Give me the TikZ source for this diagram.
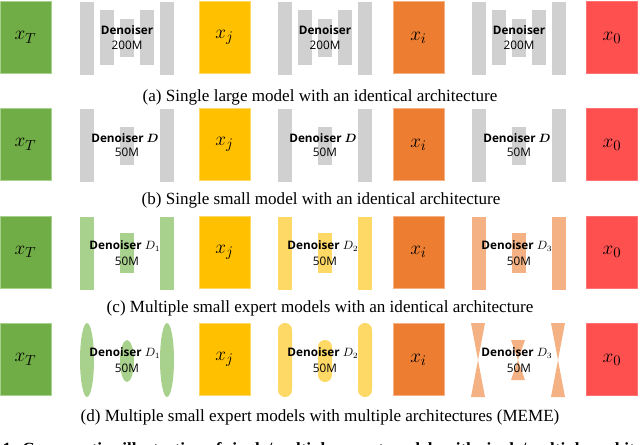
\documentclass[tikz,border=0pt]{standalone}
\usepackage{fontspec}
\usepackage{bm}
\setmainfont{Liberation Serif}
\newfontfamily\dfont{Open Sans}
\definecolor{cgreen}{HTML}{70AD47}
\definecolor{lgreen}{HTML}{A9D18E}
\definecolor{cyellow}{HTML}{FFC000}
\definecolor{lyellow}{HTML}{FFD966}
\definecolor{corange}{HTML}{ED7D31}
\definecolor{lorange}{HTML}{F4B183}
\definecolor{cred}{HTML}{FF5050}
\definecolor{cgray}{HTML}{D0D0D0}
\tikzset{
  xbox/.style={rectangle, inner sep=0pt, minimum width=51*0.75pt, minimum height=72*0.75pt, font=\fontsize{15.5}{16}\selectfont},
  dtext/.style={inner sep=0pt, font=\dfont\fontsize{8.8}{10}\selectfont},
  captext/.style={inner sep=0pt, font=\fontsize{12.8}{14}\selectfont},
}
% bars: #1 center x, #2 top, #3 bottom, #4 colour
\newcommand{\barR}[4]{\fill[#4] (#1-7,#2) rectangle (#1+7,#3);}
\newcommand{\barE}[4]{\fill[#4] (#1,{(#2+#3)/2}) ellipse [x radius=7, y radius={(#3-#2)/2}];}
\newcommand{\barS}[4]{\fill[#4, rounded corners=5.2pt] (#1-7,#2) rectangle (#1+7,#3);}
\newcommand{\barH}[4]{\fill[#4] (#1-7,#2) -- (#1+7,#2) -- (#1,{(#2+#3)/2}) -- (#1+7,#3) -- (#1-7,#3) -- (#1,{(#2+#3)/2}) -- cycle;}
\begin{document}
\begin{tikzpicture}[x=0.75pt,y=-0.75pt]
\useasboundingbox (0,0) rectangle (640,444);
\clip (0,0) rectangle (640,444);
% ---------- row (a)
\foreach \c in {127,325,519}{
  \barR{\c-40}{2}{75}{cgray}
  \barR{\c+40}{2}{75}{cgray}
  \barR{\c-20}{10}{65}{cgray}
  \barR{\c+20}{10}{65}{cgray}
  \barR{\c}{19}{57}{cgray}
}
\node[xbox, fill=cgreen, draw=lgreen] (aT) at (25.5,37.5) {$x_T$};
\node[xbox, fill=cyellow, draw=lyellow] (aj) at (224.5,37.5) {$x_j$};
\node[xbox, fill=corange, draw=lorange] (ai) at (418.5,37.5) {$x_i$};
\node[xbox, fill=cred, draw=cred!80] (a0) at (612,37.5) {$x_0$};
\node[dtext] (ad1) at (127,30) {\bfseries Denoiser};
\node[dtext] (ad1m) at (127,45) {200M};
\node[dtext] (ad2) at (325,30) {\bfseries Denoiser};
\node[dtext] (ad2m) at (325,45) {200M};
\node[dtext] (ad3) at (519,30) {\bfseries Denoiser};
\node[dtext] (ad3m) at (519,45) {200M};
\node[captext] (capa) at (320,97) {(a) Single large model with an identical architecture};
% ---------- row (b)
\foreach \c in {127,325,519}{
  \barR{\c-40}{109}{182}{cgray}
  \barR{\c+40}{109}{182}{cgray}
  \barR{\c}{127}{165}{cgray}
}
\node[xbox, fill=cgreen, draw=lgreen] (bT) at (25.5,144.5) {$x_T$};
\node[xbox, fill=cyellow, draw=lyellow] (bj) at (224.5,144.5) {$x_j$};
\node[xbox, fill=corange, draw=lorange] (bi) at (418.5,144.5) {$x_i$};
\node[xbox, fill=cred, draw=cred!80] (b0) at (612,144.5) {$x_0$};
\node[dtext] (bd1) at (125,138) {\bfseries Denoiser $\bm{D}$};
\node[dtext] (bd1m) at (127,152) {50M};
\node[dtext] (bd2) at (323,138) {\bfseries Denoiser $\bm{D}$};
\node[dtext] (bd2m) at (325,152) {50M};
\node[dtext] (bd3) at (517,138) {\bfseries Denoiser $\bm{D}$};
\node[dtext] (bd3m) at (519,152) {50M};
\node[captext] (capb) at (321,200) {(b) Single small model with an identical architecture};
% ---------- row (c)
\barR{87}{217}{290}{lgreen}\barR{167}{217}{290}{lgreen}\barR{127}{233}{273}{lgreen}
\barR{285}{217}{290}{lyellow}\barR{365}{217}{290}{lyellow}\barR{325}{233}{273}{lyellow}
\barR{479}{217}{290}{lorange}\barR{559}{217}{290}{lorange}\barR{519}{233}{273}{lorange}
\node[xbox, fill=cgreen, draw=lgreen] (cT) at (25.5,252) {$x_T$};
\node[xbox, fill=cyellow, draw=lyellow] (cj) at (224.5,252) {$x_j$};
\node[xbox, fill=corange, draw=lorange] (ci) at (418.5,252) {$x_i$};
\node[xbox, fill=cred, draw=cred!80] (c0) at (612,252) {$x_0$};
\node[dtext] (cd1) at (125,246) {\bfseries Denoiser \mdseries$D_1$};
\node[dtext] (cd1m) at (127,261) {50M};
\node[dtext] (cd2) at (323,246) {\bfseries Denoiser \mdseries$D_2$};
\node[dtext] (cd2m) at (325,261) {50M};
\node[dtext] (cd3) at (517,246) {\bfseries Denoiser \mdseries$D_3$};
\node[dtext] (cd3m) at (519,261) {50M};
\node[captext] (capc) at (320,308) {(c) Multiple small expert models with an identical architecture};
% ---------- row (d)
\barE{87}{323}{397}{lgreen}\barE{167}{323}{397}{lgreen}\barE{127}{340}{382}{lgreen}
\barS{285}{323}{397}{lyellow}\barS{365}{323}{397}{lyellow}\barS{325}{340}{382}{lyellow}
\barH{478}{323}{397}{lorange}\barH{558}{323}{397}{lorange}\barH{518}{340}{380}{lorange}
\node[xbox, fill=cgreen, draw=lgreen] (dT) at (25.5,359.5) {$x_T$};
\node[xbox, fill=cyellow, draw=lyellow] (dj) at (224.5,359.5) {$x_j$};
\node[xbox, fill=corange, draw=lorange] (di) at (418.5,359.5) {$x_i$};
\node[xbox, fill=cred, draw=cred!80] (d0) at (612,359.5) {$x_0$};
\node[dtext] (dd1) at (125,353) {\bfseries Denoiser \mdseries$D_1$};
\node[dtext] (dd1m) at (127,368) {50M};
\node[dtext] (dd2) at (323,353) {\bfseries Denoiser \mdseries$D_2$};
\node[dtext] (dd2m) at (325,368) {50M};
\node[dtext] (dd3) at (517,353) {\bfseries Denoiser \mdseries$D_3$};
\node[dtext] (dd3m) at (519,368) {50M};
\node[captext] (capd) at (320,417) {(d) Multiple small expert models with multiple architectures (MEME)};
% ---------- clipped figure caption
\node[captext, anchor=west, font=\bfseries\fontsize{12.8}{14}\selectfont] (fig) at (-50,450.5) {Figure 1: Comparative illustration of single/multiple expert models with single/multiple architectures};
\end{tikzpicture}
\end{document}
